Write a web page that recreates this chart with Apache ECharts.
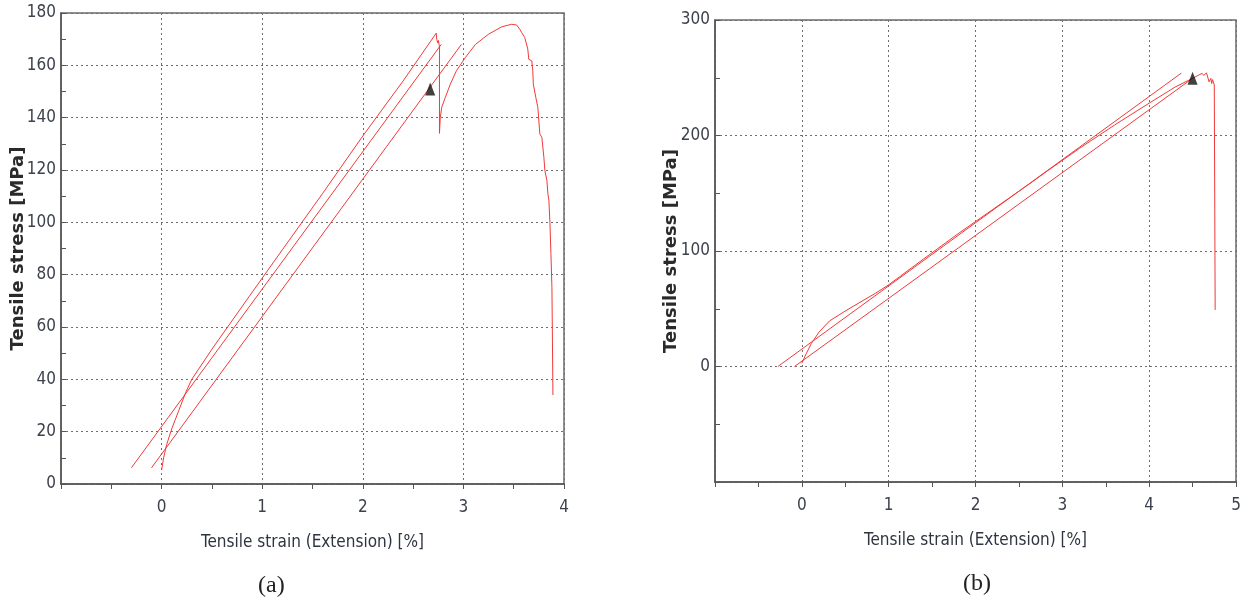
<!DOCTYPE html>
<html>
<head>
<meta charset="utf-8">
<script src="https://cdn.jsdelivr.net/npm/echarts@6/dist/echarts.min.js"></script>
<style>
html,body{margin:0;padding:0;background:#fff;}
#chart{width:1244px;height:608px;}
</style>
</head>
<body>
<div id="chart"></div>
<script>
// ---------- Data ----------
// Panel (a)
const aCurve = [[0,5.3],[0.02,10],[0.05,15],[0.1,21],[0.17,28],[0.24,35],[0.3,40],[0.5,51.5],[0.84,70],[1.2,89.5],[1.6,111],[2.0,133],[2.4,154],[2.73,172.3],[2.735,170],[2.745,168.5],[2.752,169.5],[2.762,167],[2.762,134],
  [2.77,140],[2.785,144],[2.82,147.7],[2.87,152.8],[2.93,157.9],[3.02,163],[3.12,168],[3.25,171.9],[3.38,174.7],[3.48,175.7],[3.53,175.4],[3.56,173.8],[3.58,172.5],[3.61,170.6],[3.64,166.2],[3.65,162.3],[3.68,161.7],[3.69,157.9],[3.695,152.8],[3.72,147.7],[3.74,143.9],[3.76,133.8],[3.78,132.5],[3.80,124.8],[3.81,119.8],[3.83,116],[3.84,110.9],[3.85,108.3],[3.86,100],[3.87,88],[3.88,75],[3.885,55],[3.89,34]];
const aLine1 = [[-0.30,6.2],[2.78,168]];
const aLine2 = [[-0.10,6.2],[2.98,168]];
const aMarker = [[2.67,151]];
// Panel (b)
const bCurve = [[0,3],[0.05,11],[0.11,20],[0.2,30],[0.32,39.5],[0.51,48.5],[0.85,63.5],[1.0,70.7],[1.4,93],[1.8,115],[2.2,136],[2.6,157],[2.84,170],[3.2,189],[3.6,209],[4.0,228],[4.3,242],[4.5,249.5],
  [4.57,252.3],[4.61,253.8],[4.63,252],[4.66,254.3],[4.68,253.8],[4.69,246.5],[4.71,249.5],[4.72,245],[4.73,248.4],[4.75,243.7],[4.76,242],[4.76,49]];
const bLine1 = [[-0.276,0],[4.37,254]];
const bLine2 = [[-0.084,0],[4.5,249.5]];
const bMarker = [[4.5,249.5]];
// Axis texts
const xName = 'Tensile strain (Extension) [%]';
const yName = 'Tensile stress [MPa]';
const panelLabels = ['(a)', '(b)'];

// ---------- Styles ----------
const RED = '#f03a3a';
const narrow = '"Liberation Sans Narrow","DejaVu Sans Condensed","Liberation Sans",sans-serif';
const tickFont = {fontFamily:narrow, fontSize:17, color:'#3c414c'};
const splitStyle = {show:true, lineStyle:{type:[2,3], color:'#6f6f6f', width:1}};
const axisLineStyle = {show:true, onZero:false, lineStyle:{color:'#555', width:1.5}};

function xAx(gridIndex, min, max){
  return {type:'value', gridIndex, min, max, interval:1,
    axisLine:axisLineStyle,
    axisTick:{show:true, inside:false, length:5, lineStyle:{color:'#555'}},
    minorTick:{show:true, splitNumber:2, length:5, lineStyle:{color:'#555'}},
    axisLabel:Object.assign({margin:15, formatter:v => (v < 0 ? '' : String(v))}, tickFont),
    splitLine:splitStyle,
    name:xName, nameLocation:'middle', nameGap:50,
    nameTextStyle:{fontFamily:narrow, fontSize:17, color:'#2e3440'}
  };
}
function yAx(gridIndex, min, max, interval, nameGap){
  return {type:'value', gridIndex, min, max, interval,
    axisLine:axisLineStyle,
    axisTick:{show:true, inside:true, length:5, lineStyle:{color:'#555'}},
    minorTick:{show:true, splitNumber:2, length:5, lineStyle:{color:'#555'}},
    axisLabel:Object.assign({margin:5, formatter:v => (v < 0 ? '' : String(v))}, tickFont),
    splitLine:splitStyle,
    name:yName, nameLocation:'middle', nameRotate:90, nameGap, nameMoveOverlap:false,
    nameTextStyle:{fontFamily:'"DejaVu Sans",sans-serif', fontWeight:'bold', fontSize:18, color:'#2a2a2a'}
  };
}
function lineSeries(data, xi, yi){
  return {type:'line', data, xAxisIndex:xi, yAxisIndex:yi, showSymbol:false, symbol:'none',
    lineStyle:{color:RED, width:1}, silent:true, z:3};
}
function markerSeries(data, xi, yi){
  return {type:'scatter', data, xAxisIndex:xi, yAxisIndex:yi, symbol:'triangle', symbolSize:[10,13],
    itemStyle:{color:'#111'}, z:5, silent:true};
}

const chart = echarts.init(document.getElementById('chart'), null, {renderer:'canvas'});
chart.setOption({
  animation:false,
  backgroundColor:'#ffffff',
  grid:[
    {left:61, top:13, width:503, height:471, show:true, borderColor:'#6a6a6a', borderWidth:1.5, backgroundColor:'transparent'},
    {left:715, top:20, width:521, height:462, show:true, borderColor:'#6a6a6a', borderWidth:1.5, backgroundColor:'transparent'}
  ],
  xAxis:[ xAx(0,-1,4), xAx(1,-1,5) ],
  yAxis:[ yAx(0,0,180,20,34), yAx(1,-100,300,100,35) ],
  series:[
    lineSeries(aLine1,0,0), lineSeries(aLine2,0,0), lineSeries(aCurve,0,0), markerSeries(aMarker,0,0),
    lineSeries(bLine1,1,1), lineSeries(bLine2,1,1), lineSeries(bCurve,1,1), markerSeries(bMarker,1,1)
  ],
  graphic:[
    {type:'text', left:258, top:574, style:{text:panelLabels[0], font:'24px "Liberation Serif","DejaVu Serif",serif', fill:'#222'}},
    {type:'text', left:963, top:572, style:{text:panelLabels[1], font:'24px "Liberation Serif","DejaVu Serif",serif', fill:'#222'}}
  ]
});
</script>
</body>
</html>
